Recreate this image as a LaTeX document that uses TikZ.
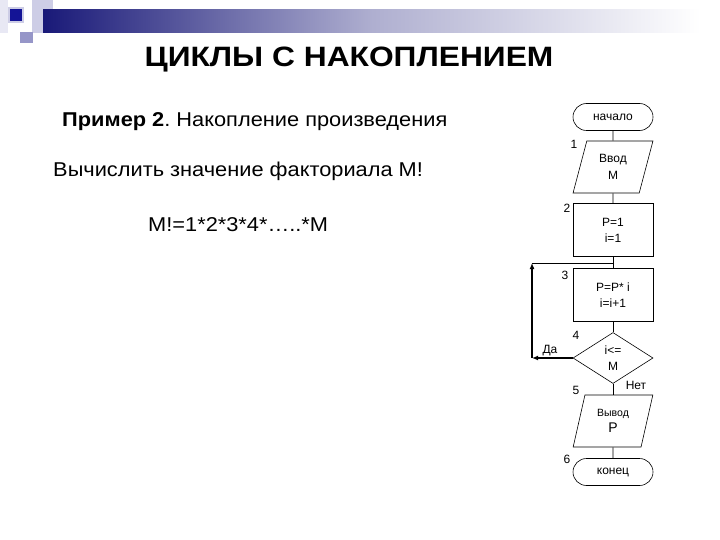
\documentclass[tikz,border=0pt]{standalone}
\usepackage{fontspec}
\setmainfont{Liberation Sans}
\frenchspacing
\usetikzlibrary{shapes.geometric,shapes.misc,arrows.meta}
\definecolor{navy}{RGB}{25,25,120}
\definecolor{lav1}{RGB}{232,232,244}
\definecolor{lav2}{RGB}{205,205,230}
\definecolor{lav3}{RGB}{150,150,200}
\definecolor{dblue}{RGB}{20,20,150}
\begin{document}
\begin{tikzpicture}[x=1pt,y=-1pt,
  txt/.style={inner sep=0pt,font=\fontsize{20}{24}\selectfont,xscale=1.09,transform shape},
  fbox/.style={draw,line width=0.6pt,minimum width=80pt,minimum height=53pt,inner sep=0pt,align=center,font=\fontsize{12}{16}\selectfont},
  term/.style={draw,line width=0.6pt,rounded rectangle,minimum width=80pt,minimum height=27pt,inner sep=0pt,font=\fontsize{12}{14}\selectfont},
  pgram/.style={draw,line width=0.6pt,trapezium,trapezium left angle=74,trapezium right angle=106,trapezium stretches=true,minimum width=80pt,minimum height=52pt,inner sep=0pt,align=center,font=\fontsize{12}{17}\selectfont},
  dec/.style={draw,line width=0.6pt,diamond,minimum width=80pt,minimum height=51pt,inner sep=0pt,align=center,font=\fontsize{12}{14}\selectfont},
  lbl/.style={inner sep=0pt,font=\fontsize{12}{14}\selectfont},
  conn/.style={line width=0.6pt},
  loopline/.style={line width=1.6pt,-{Latex[length=6pt,width=5pt]}}
]
\useasboundingbox (0,0) rectangle (720,540);
% decoration
\fill[lav1] (0,0) rectangle (8,33);
\fill[lav2] (32,0) rectangle (53,10);
\fill[lav2] (32,10) rectangle (43,33);
\shade[left color=navy,right color=white,middle color=navy!35] (43,10) rectangle (700,33);
\fill[lav3] (20,32) rectangle (33,43);
\fill[lav2] (8,7) rectangle (24,23);
\fill[dblue] (10,9) rectangle (22,21);
% texts
\node[txt,anchor=base,font=\fontsize{28}{32}\selectfont\bfseries,xscale=1.04] (title) at (349,67) {ЦИКЛЫ С НАКОПЛЕНИЕМ};
\node[txt,anchor=base west] (ex) at (62,127) {\textbf{Пример 2}. Накопление произведения};
\node[txt,anchor=base west] (task) at (53,177) {Вычислить значение факториала М!};
\node[txt,anchor=base west] (formula) at (148,232) {М!=1*2*3*4*…..*М};
% flowchart
\node[term] (start) at (613,117) {начало};
\node[pgram] (in) at (613,167) {Ввод\\М};
\node[fbox] (init) at (613,230) {P=1\\i=1};
\node[fbox] (body) at (613,295) {P=P* i\\i=i+1};
\node[dec] (cond) at (613,358) {i<=\\[2pt]М};
\node[pgram,font=\fontsize{10.5}{16}\selectfont] (out) at (613,421) {Вывод\\{\fontsize{14}{16}\selectfont P}};
\node[term] (end) at (613,472) {конец};
\draw[conn] (start) -- (in);
\draw[conn] (in) -- (init);
\draw[conn] (init) -- (body);
\draw[conn] (body) -- (cond);
\draw[conn] (cond) -- (out);
\draw[conn] (out) -- (end);
\coordinate (da) at (532,358);
\coordinate (up) at (532,263);
\coordinate (j) at (613,263);
\draw[loopline] (cond.west) -- (da);
\draw[loopline] (da) -- (up);
\draw[conn] (up) -- (j);
% labels
\node[lbl] (l1) at (574,144) {1};
\node[lbl] (l2) at (567,208) {2};
\node[lbl] (l3) at (565,275) {3};
\node[lbl] (l4) at (576,335) {4};
\node[lbl] (l5) at (576,390) {5};
\node[lbl] (l6) at (567,459) {6};
\node[lbl] (yes) at (550,351) {Да};
\node[lbl] (no) at (636,385) {Нет};
\end{tikzpicture}
\end{document}
